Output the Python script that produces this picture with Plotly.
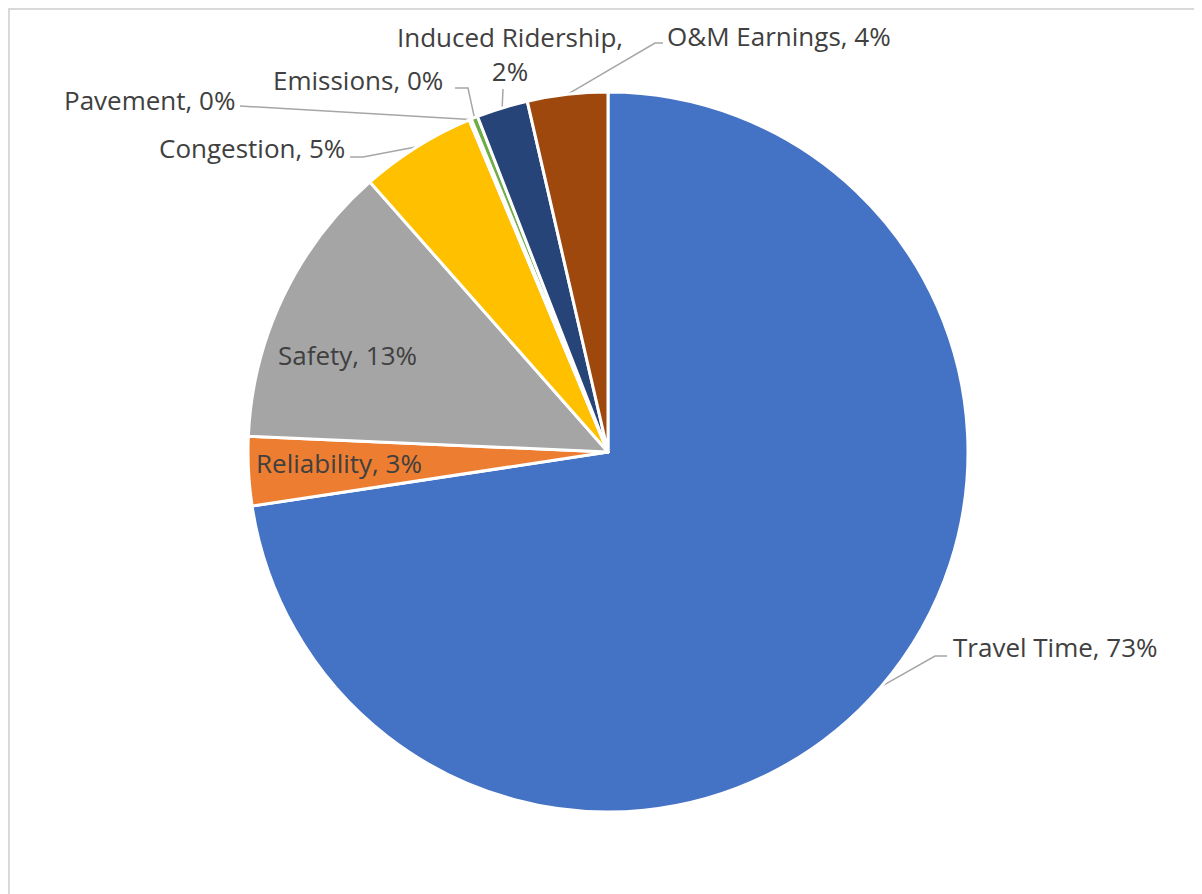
import math
import plotly.graph_objects as go

labels = ["Travel Time", "Reliability", "Safety", "Congestion", "Pavement",
          "Emissions", "Induced Ridership", "O&M Earnings"]
values = [72.6, 3.1, 12.8, 5.2, 0.1, 0.3, 2.3, 3.6]
colors = ["#4472C4", "#ED7D31", "#A5A5A5", "#FFC000", "#5B9BD5",
          "#70AD47", "#264478", "#9E480E"]
pct_text = ["73%", "3%", "13%", "5%", "0%", "0%", "2%", "4%"]

W, H = 1202, 894
OFF = 8  # page body margin
CX, CY, R = 608, 452, 360
FONT = "Open Sans"
TXT = "#404040"
LINE = "#A6A6A6"
FS = 26

# label placement (layout): (x, y, xanchor, elbow points, text)
label_layout = {
    "Travel Time": dict(x=951, y=647, xanchor="left", elbow=[(935, 656), (947, 656)],
                        text="Travel Time, 73%"),
    "O&M Earnings": dict(x=665, y=36, xanchor="left", elbow=[(655, 43), (663, 43)],
                         text="O&M Earnings, 4%"),
    "Induced Ridership": dict(x=510, y=54, xanchor="center", elbow=[(503, 89)],
                              text="Induced Ridership,<br>2%"),
    "Emissions": dict(x=445, y=80, xanchor="right", elbow=[(468, 88), (455, 88)],
                      text="Emissions, 0%"),
    "Pavement": dict(x=237, y=100, xanchor="right", elbow=[(248, 106), (240, 106)],
                     text="Pavement, 0%"),
    "Congestion": dict(x=347, y=148, xanchor="right", elbow=[(363, 157), (350, 157)],
                       text="Congestion, 5%"),
    "Safety": dict(x=347, y=355, xanchor="center", elbow=None, text="Safety, 13%"),
    "Reliability": dict(x=339, y=463, xanchor="center", elbow=None, text="Reliability, 3%"),
}

fig = go.Figure()

fig.add_trace(go.Pie(
    labels=labels, values=values, sort=False, direction="clockwise", rotation=0,
    marker=dict(colors=colors, line=dict(color="white", width=3)),
    textinfo="none", hoverinfo="label+percent", showlegend=False,
    domain=dict(x=[(CX - R - OFF) / W, (CX + R - OFF) / W],
                y=[1 - (CY + R - OFF) / H, 1 - (CY - R - OFF) / H]),
))

total = sum(values)
cum = 0.0
annotations = []
for lab, v in zip(labels, values):
    mid = (cum + v / 2) / total * 2 * math.pi
    cum += v
    ex = CX + R * math.sin(mid)
    ey = CY - R * math.cos(mid)
    spec = label_layout[lab]
    if spec["elbow"]:
        xs = [ex] + [p[0] for p in spec["elbow"]]
        ys = [ey] + [p[1] for p in spec["elbow"]]
        fig.add_trace(go.Scatter(x=xs, y=ys, mode="lines", line=dict(color=LINE, width=1.5),
                                 hoverinfo="skip", showlegend=False))
    annotations.append(dict(x=spec["x"], y=spec["y"], xref="x", yref="y", text=spec["text"],
                            showarrow=False, xanchor=spec["xanchor"], yanchor="middle",
                            font=dict(family=FONT, size=FS, color=TXT), align="center"))

fig.update_layout(
    width=W, height=H, margin=dict(l=0, r=0, t=0, b=0),
    paper_bgcolor="white", plot_bgcolor="rgba(0,0,0,0)",
    xaxis=dict(range=[OFF, W + OFF], visible=False, fixedrange=True),
    yaxis=dict(range=[H + OFF, OFF], visible=False, fixedrange=True),
    annotations=annotations,
    shapes=[dict(type="rect", xref="paper", yref="paper",
                 x0=1.0 / W, y0=-0.05, x1=1.05, y1=1 - 1.0 / H,
                 line=dict(color="#D9D9D9", width=2), layer="below")],
)

fig.write_html("out.html")
